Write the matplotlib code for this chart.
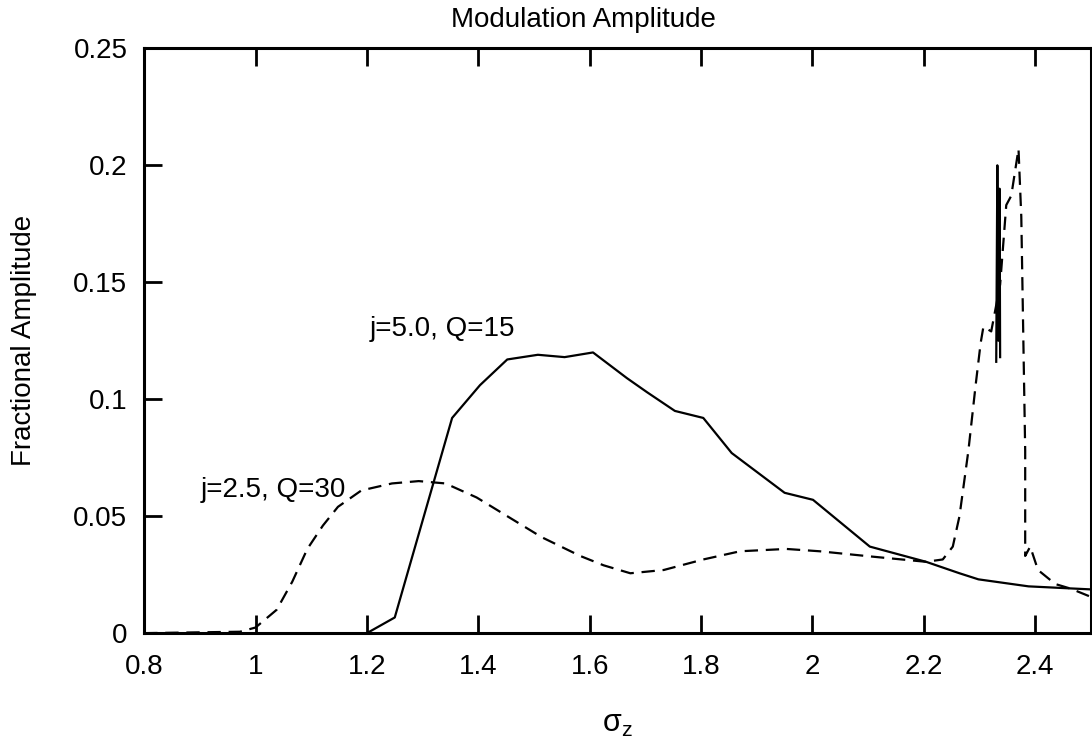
import matplotlib.pyplot as plt

plt.rcParams['font.family'] = ['Liberation Sans', 'DejaVu Sans']

# j=5.0, Q=15 (solid)
solid_x = [0.8, 1.0, 1.2, 1.25, 1.353, 1.403, 1.452, 1.507, 1.555, 1.606, 1.667, 1.703,
           1.753, 1.804, 1.855, 1.95, 2.001, 2.103, 2.204, 2.264, 2.298, 2.388, 2.5]
solid_y = [0.0, 0.0, 0.0, 0.0067, 0.092, 0.106, 0.117, 0.119, 0.118, 0.120, 0.109, 0.103,
           0.095, 0.092, 0.077, 0.060, 0.057, 0.037, 0.0305, 0.0256, 0.023, 0.020, 0.0187]

# solid spike near the resonance
spike_x = [2.330, 2.332, 2.334, 2.336, 2.337]
spike_y = [0.116, 0.200, 0.125, 0.190, 0.118]

# j=2.5, Q=30 (dashed)
dash_x = [0.8, 0.972, 1.0, 1.038, 1.066, 1.093, 1.121, 1.148, 1.19, 1.245, 1.293, 1.341,
          1.397, 1.452, 1.514, 1.583, 1.625, 1.673, 1.733, 1.804, 1.870, 1.953, 2.013,
          2.108, 2.204, 2.234, 2.252, 2.264, 2.280, 2.293, 2.302, 2.307, 2.321, 2.337,
          2.348, 2.357, 2.370, 2.375, 2.379, 2.382, 2.382, 2.391, 2.405, 2.436, 2.464, 2.5]
dash_y = [0.0, 0.0006, 0.0024, 0.010, 0.022, 0.036, 0.046, 0.054, 0.061, 0.064, 0.065, 0.064,
          0.058, 0.050, 0.041, 0.033, 0.029, 0.0256, 0.027, 0.0315, 0.035, 0.036, 0.035,
          0.0327, 0.0305, 0.0315, 0.037, 0.050, 0.078, 0.106, 0.124, 0.131, 0.129, 0.149,
          0.183, 0.187, 0.207, 0.178, 0.121, 0.078, 0.033, 0.037, 0.027, 0.021, 0.019, 0.0155]

xticks = [0.8, 1.0, 1.2, 1.4, 1.6, 1.8, 2.0, 2.2, 2.4]
xticklabels = ['0.8', '1', '1.2', '1.4', '1.6', '1.8', '2', '2.2', '2.4']
yticks = [0, 0.05, 0.1, 0.15, 0.2, 0.25]
yticklabels = ['0', '0.05', '0.1', '0.15', '0.2', '0.25']

fig = plt.figure(figsize=(10.92, 7.44), dpi=100)
ax = fig.add_axes([0.132, 0.149, 0.867, 0.786])

ax.plot(solid_x, solid_y, color='black', lw=1.6)
ax.plot(spike_x, spike_y, color='black', lw=1.6)
ax.plot(dash_x, dash_y, color='black', lw=1.6, linestyle=(0, (6, 3.5)))

ax.text(1.205, 0.130, 'j=5.0, Q=15', fontsize=20, va='center', ha='left')
ax.text(0.902, 0.0613, 'j=2.5, Q=30', fontsize=20, va='center', ha='left')

ax.set_xlim(0.8, 2.5)
ax.set_ylim(0, 0.25)
ax.set_xticks(xticks)
ax.set_xticklabels(xticklabels)
ax.set_yticks(yticks)
ax.set_yticklabels(yticklabels)
ax.tick_params(direction='in', length=13, width=2, labelsize=20, top=True, right=False)
ax.tick_params(axis='x', pad=15)
ax.tick_params(axis='y', pad=12)

for s in ax.spines.values():
    s.set_linewidth(2.2)

fig.text(0.534, 1 - 20 / 744, 'Modulation Amplitude', fontsize=20, ha='center', va='center')
ax.set_ylabel('Fractional Amplitude', fontsize=20, labelpad=26)
fig.text(0.565, 1 - 724 / 744, 'σ$_\\mathregular{z}$', fontsize=22, ha='center', va='center')

fig.savefig('out.png', dpi=100)
